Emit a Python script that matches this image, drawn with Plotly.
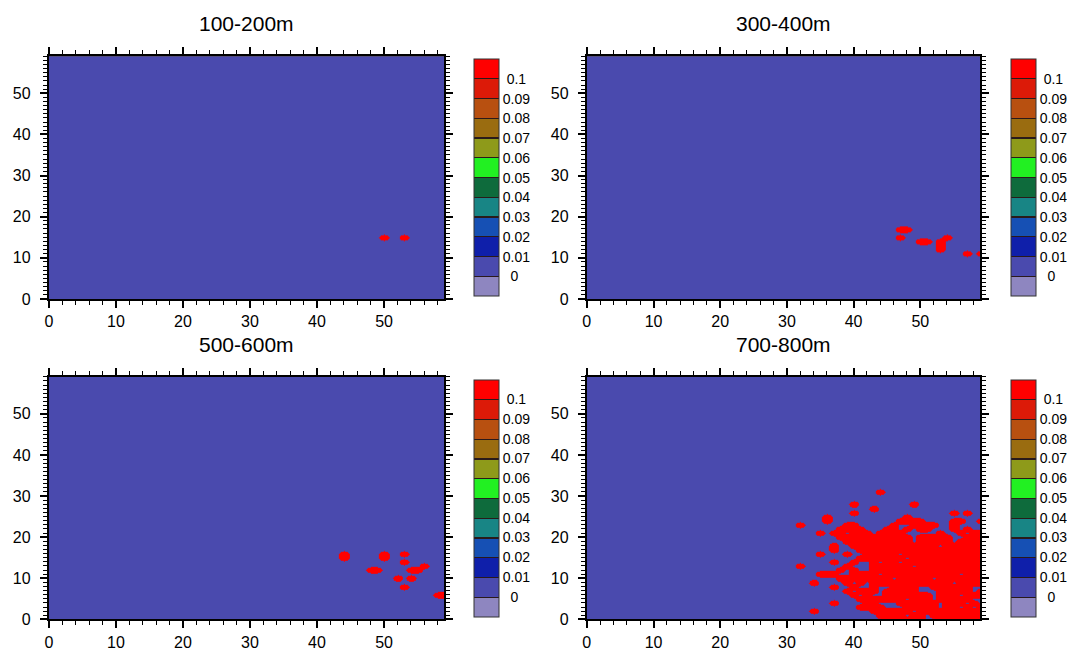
import numpy as np
import plotly.graph_objects as go

# ---------------- data ----------------
grid_x = list(range(60))
grid_y = list(range(60))

panel_titles = ["100-200m", "300-400m", "500-600m", "700-800m"]

level_values = [0.0, 0.01, 0.02, 0.03, 0.04, 0.05, 0.06, 0.07, 0.08, 0.09, 0.1]
level_labels = ["\u00a0\u00a00", "0.01", "0.02", "0.03", "0.04", "0.05",
                "0.06", "0.07", "0.08", "0.09", "\u00a00.1"]
band_colors = ["#8E86C0", "#4A4AAE", "#0F1FAA", "#1650B4", "#188585", "#0E6B3C",
               "#22F022", "#8E9A1A", "#9A6C10", "#B85010", "#DC1A08", "#FF0000"]
separator_color = "#2a1a1a"

blob_value = 0.4   # value of the red (> 0.1) cells; all other cells are 0

# red cells, 100-200m
p100_x = [50, 53]
p100_y = [15, 15]
# red cells, 300-400m
p300_x = [47, 48, 47, 50, 51, 53, 53, 53, 54, 57, 59]
p300_y = [17, 17, 15, 14, 14, 12, 13, 14, 15, 11, 11]
# red cells, 500-600m
p500_x = [44, 44, 50, 50, 53, 53, 48, 49, 54, 55, 56, 52, 54, 53, 58, 59]
p500_y = [15, 16, 15, 16, 16, 14, 12, 12, 12, 12, 13, 10, 10, 8, 6, 6]
# red cells, 700-800m: for each row y, runs of x (first, last)
p700_runs = {
    0: [(45, 50), (53, 58)],
    1: [(44, 47), (49, 50), (52, 59)],
    2: [(34, 34), (43, 48), (50, 59)],
    3: [(41, 44), (48, 52), (54, 55), (57, 57), (59, 59)],
    4: [(37, 37), (42, 43), (47, 52), (54, 56), (58, 58)],
    5: [(41, 47), (49, 51), (53, 57)],
    6: [(40, 40), (42, 42), (45, 51), (53, 55), (57, 59)],
    7: [(39, 39), (41, 43), (45, 49), (53, 57), (59, 59)],
    8: [(37, 37), (40, 40), (43, 43), (46, 49), (52, 57)],
    9: [(34, 34), (39, 39), (41, 41), (43, 54), (56, 59)],
    10: [(38, 45), (47, 51), (53, 59)],
    11: [(35, 37), (40, 43), (45, 55), (57, 59)],
    12: [(38, 38), (40, 40), (43, 59)],
    13: [(32, 32), (39, 39), (43, 48), (50, 59)],
    14: [(37, 37), (40, 40), (43, 43), (45, 46), (48, 59)],
    15: [(41, 47), (49, 59)],
    16: [(35, 35), (39, 39), (42, 46), (48, 59)],
    17: [(37, 37), (41, 59)],
    18: [(37, 37), (40, 52), (54, 59)],
    19: [(39, 48), (50, 54), (56, 59)],
    20: [(38, 48), (50, 54), (57, 59)],
    21: [(35, 35), (37, 38), (40, 42), (44, 47), (53, 53), (56, 56), (58, 59)],
    22: [(38, 41), (45, 46), (48, 48), (50, 51), (55, 55), (57, 57)],
    23: [(32, 32), (39, 40), (46, 46), (49, 52), (55, 55)],
    24: [(36, 36), (47, 50), (55, 56), (59, 59)],
    25: [(36, 36), (48, 48)],
    26: [(40, 40), (55, 55), (57, 57)],
    27: [(43, 43)],
    28: [(40, 40), (49, 49)],
    31: [(44, 44)],
}

p700_x, p700_y = [], []
for yy, runs in p700_runs.items():
    for a, b in runs:
        for xx in range(a, b + 1):
            p700_x.append(xx)
            p700_y.append(yy)

panel_points = [(p100_x, p100_y), (p300_x, p300_y), (p500_x, p500_y), (p700_x, p700_y)]


def make_field(px, py):
    z = np.zeros((len(grid_y), len(grid_x)))
    for xx, yy in zip(px, py):
        z[yy, xx] = blob_value
    return z


# ---------------- layout geometry (page pixels) ----------------
PAGE_OFF = 8            # default body margin of the html page
W, H = 1075 - 2 * PAGE_OFF, 663 - 2 * PAGE_OFF


def px_x(v):
    return (v - PAGE_OFF) / W


def px_y(v):
    return 1 - (v - PAGE_OFF) / H


boxes = [
    dict(x0=45, x1=442, y0=57, y1=303, cbx=472, cby0=60, cby1=300),
    dict(x0=585, x1=980, y0=57, y1=303, cbx=1011, cby0=60, cby1=300),
    dict(x0=45, x1=442, y0=382, y1=628, cbx=472, cby0=385, cby1=625),
    dict(x0=585, x1=980, y0=382, y1=628, cbx=1011, cby0=385, cby1=625),
]

# discrete label-bar colour scale: 12 equal boxes from -0.01 to 0.11,
# with thin dark separators between boxes
n = len(band_colors)
d = 0.0025
band_scale = [[0.0, band_colors[0]]]
for k in range(1, n):
    edge = k / n
    a = round(edge - d, 6)
    c = round(edge + d, 6)
    band_scale.append([a, band_colors[k - 1]])
    band_scale.append([a, separator_color])
    band_scale.append([c, separator_color])
    band_scale.append([c, band_colors[k]])
band_scale.append([1.0, band_colors[-1]])
bar_min = level_values[0] - 0.01
bar_max = level_values[-1] + 0.01

# visible field: threshold at 0.1 between background band and red band
thr = level_values[-1] / blob_value
field_scale = [[0, band_colors[1]], [thr, band_colors[1]], [thr, band_colors[-1]], [1, band_colors[-1]]]

FONT = "Liberation Sans, Arial, Helvetica, sans-serif"

fig = go.Figure()
for i, (pts, b) in enumerate(zip(panel_points, boxes)):
    z = make_field(*pts)
    ax = "" if i == 0 else str(i + 1)
    # trace carrying the label bar (drawn underneath, fully covered)
    fig.add_trace(go.Heatmap(
        x=grid_x, y=grid_y, z=z,
        xaxis="x" + ax, yaxis="y" + ax,
        zmin=bar_min, zmax=bar_max, zauto=False,
        colorscale=band_scale,
        hoverinfo="skip",
        colorbar=dict(
            x=px_x(b["cbx"]), xanchor="left",
            y=px_y((b["cby0"] + b["cby1"]) / 2), yanchor="middle",
            len=(b["cby1"] - b["cby0"]) / H, lenmode="fraction",
            thickness=25, thicknessmode="pixels",
            outlinewidth=1, outlinecolor="#333333",
            xpad=0, ypad=0, borderwidth=0,
            tickmode="array", tickvals=level_values, ticktext=level_labels,
            ticks="", ticklen=0,
            tickfont=dict(family=FONT, size=14, color="black"),
        ),
    ))
    # visible field
    fig.add_trace(go.Heatmap(
        x=grid_x, y=grid_y, z=z,
        xaxis="x" + ax, yaxis="y" + ax,
        zmin=0, zmax=blob_value, zsmooth="best",
        colorscale=field_scale,
        showscale=False,
        hoverinfo="skip",
    ))

    axis_common = dict(
        showline=True, linewidth=2, linecolor="black", mirror="ticks",
        ticks="outside", ticklen=7, tickwidth=1.5, tickcolor="black",
        showgrid=False, zeroline=False, range=[0, 59],
        tickfont=dict(family=FONT, size=16, color="black"),
        tickmode="array", tickvals=[0, 10, 20, 30, 40, 50],
    )
    xa = dict(axis_common, domain=[px_x(b["x0"]), px_x(b["x1"])], anchor="y" + ax,
              minor=dict(dtick=2, tick0=0, ticks="outside", ticklen=4, tickwidth=1,
                         tickcolor="black", showgrid=False))
    ya = dict(axis_common, domain=[px_y(b["y1"]), px_y(b["y0"])], anchor="x" + ax,
              ticklabelstandoff=6,
              minor=dict(dtick=1, tick0=0, ticks="outside", ticklen=4, tickwidth=1,
                         tickcolor="black", showgrid=False))
    fig.layout["xaxis" + ax] = xa
    fig.layout["yaxis" + ax] = ya

    fig.add_annotation(
        text=panel_titles[i], xref="paper", yref="paper",
        x=px_x((b["x0"] + b["x1"]) / 2), y=px_y(b["y0"] - 33),
        xanchor="center", yanchor="middle", showarrow=False,
        font=dict(family=FONT, size=21, color="black"),
    )

fig.update_layout(
    width=W, height=H,
    margin=dict(l=0, r=0, t=0, b=0),
    paper_bgcolor="white", plot_bgcolor="white",
    showlegend=False,
)

fig.write_html("out.html")
